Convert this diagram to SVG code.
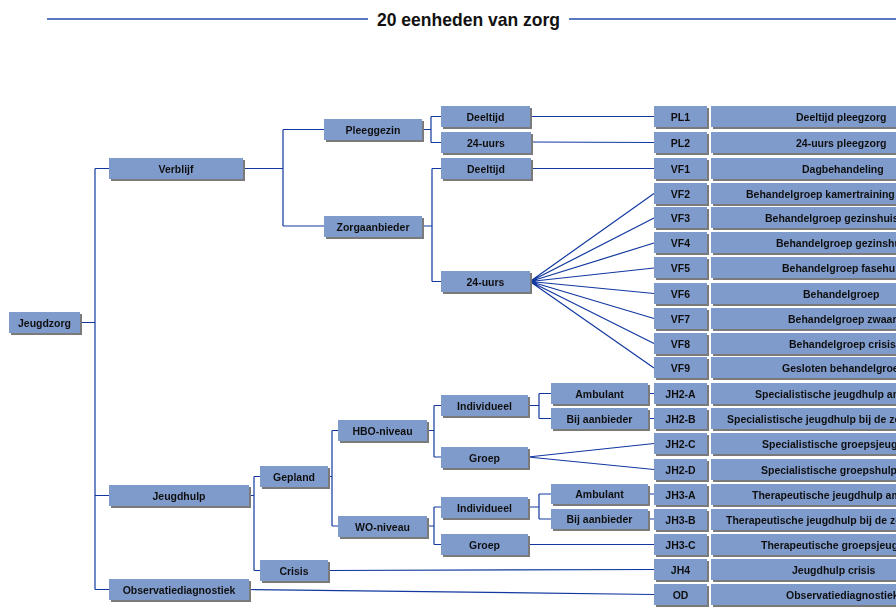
<svg xmlns="http://www.w3.org/2000/svg" width="896" height="607" viewBox="0 0 896 607">
<style>
.b{fill:#7f9bcc}
.s{fill:#7a7a7a}
.t{font-family:"Liberation Sans",Arial,sans-serif;font-weight:bold;font-size:10.5px;fill:#111;text-anchor:middle}
.d{font-family:"Liberation Sans",Arial,sans-serif;font-weight:bold;font-size:10.5px;fill:#111}
.c{fill:none;stroke:#1238a0;stroke-width:1.2}
.title{font-family:"Liberation Sans",Arial,sans-serif;font-weight:bold;font-size:19px;fill:#111;text-anchor:middle}
</style>
<defs>
<filter id="sh" x="-5%" y="-10%" width="115%" height="130%">
<feOffset in="SourceAlpha" dx="2" dy="2" result="o"/>
<feFlood flood-color="#7a7a7a"/>
<feComposite in2="o" operator="in" result="s"/>
<feMerge><feMergeNode in="s"/><feMergeNode in="SourceGraphic"/></feMerge>
</filter>
</defs>
<rect width="896" height="607" fill="#fff"/>
<g id="title">
<line x1="47" y1="19" x2="368" y2="19" stroke="#5a78bf" stroke-width="2"/>
<line x1="569" y1="19" x2="896" y2="19" stroke="#5a78bf" stroke-width="2"/>
<text class="title" x="468.5" y="26" textLength="183" lengthAdjust="spacingAndGlyphs">20 eenheden van zorg</text>
</g>
<g id="connectors">
<path class="c" d="M80,322.5H95M95,168.5V589.5M95,168.5H109M95,495.5H109M95,589.5H109"/>
<path class="c" d="M243,168.5H283M283,129.5V226M283,129.5H324M283,226H324"/>
<path class="c" d="M422,129.5H431M431,116.5V142.5M431,116.5H441M431,142.5H441"/>
<path class="c" d="M422,226H432M432,168.5V281.5M432,168.5H441M432,281.5H441"/>
<path class="c" d="M530,116.5H654M531,142L654,142.5M531,168.5H654"/>
<path class="c" d="M530,281.5L654,193.5M530,281.5L654,218M530,281.5L654,243M530,281.5L654,268M530,281.5L654,293.5M530,281.5L654,318.5M530,281.5L654,343.5M530,281.5L654,368"/>
<path class="c" d="M249,495.5H254M254,476.5V570.5M254,476.5H260M254,570.5H260"/>
<path class="c" d="M328,476.5H332M332,430.5V526M332,430.5H338M332,526H338"/>
<path class="c" d="M427,430.5H434M434,405.5V457M434,405.5H441M434,457H441"/>
<path class="c" d="M427,526H434M434,507V544.5M434,507H441M434,544.5H441"/>
<path class="c" d="M528,405.5H539M539,393.5V418.5M539,393.5H551M539,418.5H551M648,393.5H654M648,418.5H654"/>
<path class="c" d="M528,457L654,443.5M528,457L654,469.5"/>
<path class="c" d="M528,507H539M539,494V519M539,494H551M539,519H551M648,494H654M648,519H654"/>
<path class="c" d="M528,544.5H654M328,570.5L654,569.5M249,589.5L654,594.5"/>
</g>
<g id="jeugdzorg" filter="url(#sh)"><rect class="b" x="9" y="312" width="71" height="21"/><text class="t" x="44.5" y="326.5">Jeugdzorg</text></g>
<g id="verblijf" filter="url(#sh)"><rect class="b" x="109" y="158" width="134" height="21"/><text class="t" x="176" y="172.5">Verblijf</text></g>
<g id="jeugdhulp" filter="url(#sh)"><rect class="b" x="109" y="485" width="140" height="21"/><text class="t" x="179" y="499.5">Jeugdhulp</text></g>
<g id="observatiediagnostiek" filter="url(#sh)"><rect class="b" x="109" y="579" width="140" height="21"/><text class="t" x="179" y="593.5">Observatiediagnostiek</text></g>
<g id="pleeggezin" filter="url(#sh)"><rect class="b" x="324" y="119" width="98" height="21"/><text class="t" x="373" y="133.5">Pleeggezin</text></g>
<g id="zorgaanbieder" filter="url(#sh)"><rect class="b" x="324" y="216" width="98" height="21"/><text class="t" x="373" y="230.5">Zorgaanbieder</text></g>
<g id="deeltijd-pl" filter="url(#sh)"><rect class="b" x="441" y="106" width="89" height="21"/><text class="t" x="485.5" y="120.5">Deeltijd</text></g>
<g id="24uurs-pl" filter="url(#sh)"><rect class="b" x="441" y="132" width="90" height="21"/><text class="t" x="486" y="146.5">24-uurs</text></g>
<g id="deeltijd-za" filter="url(#sh)"><rect class="b" x="441" y="158" width="90" height="21"/><text class="t" x="486" y="172.5">Deeltijd</text></g>
<g id="24uurs-za" filter="url(#sh)"><rect class="b" x="441" y="271" width="89" height="21"/><text class="t" x="485.5" y="285.5">24-uurs</text></g>
<g id="gepland" filter="url(#sh)"><rect class="b" x="260" y="466" width="68" height="21"/><text class="t" x="294" y="480.5">Gepland</text></g>
<g id="crisis" filter="url(#sh)"><rect class="b" x="260" y="560" width="68" height="21"/><text class="t" x="294" y="574.5">Crisis</text></g>
<g id="hbo" filter="url(#sh)"><rect class="b" x="338" y="420" width="89" height="21"/><text class="t" x="382.5" y="434.5">HBO-niveau</text></g>
<g id="wo" filter="url(#sh)"><rect class="b" x="338" y="516" width="89" height="21"/><text class="t" x="382.5" y="530.5">WO-niveau</text></g>
<g id="individueel-hbo" filter="url(#sh)"><rect class="b" x="441" y="395" width="87" height="21"/><text class="t" x="484.5" y="409.5">Individueel</text></g>
<g id="groep-hbo" filter="url(#sh)"><rect class="b" x="441" y="447" width="87" height="21"/><text class="t" x="484.5" y="461.5">Groep</text></g>
<g id="individueel-wo" filter="url(#sh)"><rect class="b" x="441" y="497" width="87" height="21"/><text class="t" x="484.5" y="511.5">Individueel</text></g>
<g id="groep-wo" filter="url(#sh)"><rect class="b" x="441" y="534" width="87" height="21"/><text class="t" x="484.5" y="548.5">Groep</text></g>
<g id="ambulant-hbo" filter="url(#sh)"><rect class="b" x="551" y="383" width="97" height="21"/><text class="t" x="599.5" y="397.5">Ambulant</text></g>
<g id="bijaanbieder-hbo" filter="url(#sh)"><rect class="b" x="551" y="408" width="97" height="21"/><text class="t" x="599.5" y="422.5">Bij aanbieder</text></g>
<g id="ambulant-wo" filter="url(#sh)"><rect class="b" x="551" y="484" width="97" height="20"/><text class="t" x="599.5" y="498">Ambulant</text></g>
<g id="bijaanbieder-wo" filter="url(#sh)"><rect class="b" x="551" y="509" width="97" height="20"/><text class="t" x="599.5" y="523">Bij aanbieder</text></g>
<g id="PL1" filter="url(#sh)"><rect class="b" x="654" y="106" width="53" height="21"/><text class="t" x="680.5" y="120.5">PL1</text><rect class="b" x="711" y="106" width="200" height="21"/><text class="d" x="796" y="120.5">Deeltijd pleegzorg</text></g>
<g id="PL2" filter="url(#sh)"><rect class="b" x="654" y="132" width="53" height="21"/><text class="t" x="680.5" y="146.5">PL2</text><rect class="b" x="711" y="132" width="200" height="21"/><text class="d" x="796" y="146.5">24-uurs pleegzorg</text></g>
<g id="VF1" filter="url(#sh)"><rect class="b" x="654" y="158" width="53" height="21"/><text class="t" x="680.5" y="172.5">VF1</text><rect class="b" x="711" y="158" width="200" height="21"/><text class="d" x="802" y="172.5">Dagbehandeling</text></g>
<g id="VF2" filter="url(#sh)"><rect class="b" x="654" y="183" width="53" height="21"/><text class="t" x="680.5" y="197.5">VF2</text><rect class="b" x="711" y="183" width="200" height="21"/><text class="d" x="746" y="197.5">Behandelgroep kamertraining</text></g>
<g id="VF3" filter="url(#sh)"><rect class="b" x="654" y="207" width="53" height="21"/><text class="t" x="680.5" y="221.5">VF3</text><rect class="b" x="711" y="207" width="200" height="21"/><text class="d" x="765" y="221.5">Behandelgroep gezinshuis</text></g>
<g id="VF4" filter="url(#sh)"><rect class="b" x="654" y="232" width="53" height="21"/><text class="t" x="680.5" y="246.5">VF4</text><rect class="b" x="711" y="232" width="200" height="21"/><text class="d" x="776" y="246.5">Behandelgroep gezinshu</text></g>
<g id="VF5" filter="url(#sh)"><rect class="b" x="654" y="257" width="53" height="21"/><text class="t" x="680.5" y="271.5">VF5</text><rect class="b" x="711" y="257" width="200" height="21"/><text class="d" x="782" y="271.5">Behandelgroep fasehui</text></g>
<g id="VF6" filter="url(#sh)"><rect class="b" x="654" y="283" width="53" height="21"/><text class="t" x="680.5" y="297.5">VF6</text><rect class="b" x="711" y="283" width="200" height="21"/><text class="d" x="803" y="297.5">Behandelgroep</text></g>
<g id="VF7" filter="url(#sh)"><rect class="b" x="654" y="308" width="53" height="21"/><text class="t" x="680.5" y="322.5">VF7</text><rect class="b" x="711" y="308" width="200" height="21"/><text class="d" x="788" y="322.5">Behandelgroep zwaar</text></g>
<g id="VF8" filter="url(#sh)"><rect class="b" x="654" y="333" width="53" height="21"/><text class="t" x="680.5" y="347.5">VF8</text><rect class="b" x="711" y="333" width="200" height="21"/><text class="d" x="789" y="347.5">Behandelgroep crisis</text></g>
<g id="VF9" filter="url(#sh)"><rect class="b" x="654" y="357" width="53" height="21"/><text class="t" x="680.5" y="371.5">VF9</text><rect class="b" x="711" y="357" width="200" height="21"/><text class="d" x="782" y="371.5">Gesloten behandelgroe</text></g>
<g id="JH2-A" filter="url(#sh)"><rect class="b" x="654" y="383" width="53" height="21"/><text class="t" x="680.5" y="397.5">JH2-A</text><rect class="b" x="711" y="383" width="200" height="21"/><text class="d" x="755" y="397.5">Specialistische jeugdhulp am</text></g>
<g id="JH2-B" filter="url(#sh)"><rect class="b" x="654" y="408" width="53" height="21"/><text class="t" x="680.5" y="422.5">JH2-B</text><rect class="b" x="711" y="408" width="200" height="21"/><text class="d" x="727" y="422.5">Specialistische jeugdhulp bij de zo</text></g>
<g id="JH2-C" filter="url(#sh)"><rect class="b" x="654" y="433" width="53" height="21"/><text class="t" x="680.5" y="447.5">JH2-C</text><rect class="b" x="711" y="433" width="200" height="21"/><text class="d" x="762" y="447.5">Specialistische groepsjeugd</text></g>
<g id="JH2-D" filter="url(#sh)"><rect class="b" x="654" y="459" width="53" height="21"/><text class="t" x="680.5" y="473.5">JH2-D</text><rect class="b" x="711" y="459" width="200" height="21"/><text class="d" x="761" y="473.5">Specialistische groepshulp a</text></g>
<g id="JH3-A" filter="url(#sh)"><rect class="b" x="654" y="484" width="53" height="21"/><text class="t" x="680.5" y="498.5">JH3-A</text><rect class="b" x="711" y="484" width="200" height="21"/><text class="d" x="752" y="498.5">Therapeutische jeugdhulp am</text></g>
<g id="JH3-B" filter="url(#sh)"><rect class="b" x="654" y="509" width="53" height="21"/><text class="t" x="680.5" y="523.5">JH3-B</text><rect class="b" x="711" y="509" width="200" height="21"/><text class="d" x="726" y="523.5">Therapeutische jeugdhulp bij de zo</text></g>
<g id="JH3-C" filter="url(#sh)"><rect class="b" x="654" y="534" width="53" height="21"/><text class="t" x="680.5" y="548.5">JH3-C</text><rect class="b" x="711" y="534" width="200" height="21"/><text class="d" x="761" y="548.5">Therapeutische groepsjeugd</text></g>
<g id="JH4" filter="url(#sh)"><rect class="b" x="654" y="559" width="53" height="21"/><text class="t" x="680.5" y="573.5">JH4</text><rect class="b" x="711" y="559" width="200" height="21"/><text class="d" x="792" y="573.5">Jeugdhulp crisis</text></g>
<g id="OD" filter="url(#sh)"><rect class="b" x="654" y="584" width="53" height="21"/><text class="t" x="680.5" y="598.5">OD</text><rect class="b" x="711" y="584" width="200" height="21"/><text class="d" x="786" y="598.5">Observatiediagnostiek</text></g>
</svg>
